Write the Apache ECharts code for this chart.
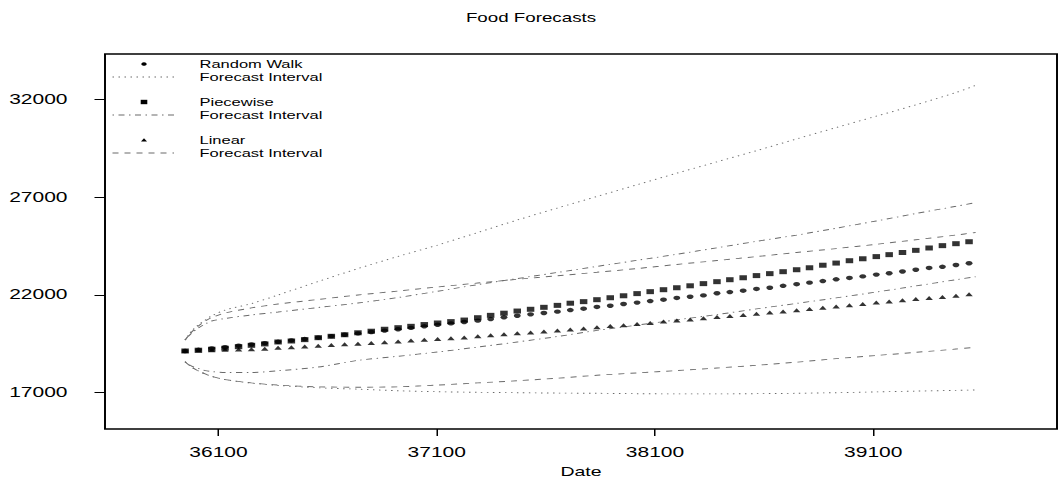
<!DOCTYPE html>
<html>
<head>
<meta charset="utf-8">
<script src="https://cdn.jsdelivr.net/npm/echarts@6/dist/echarts.min.js"></script>
<style>
html,body{margin:0;padding:0;background:#fff;overflow:hidden;}
#wrap{width:1062px;height:487px;overflow:hidden;}
#c{width:708px;height:487px;transform:scaleX(1.5);transform-origin:0 0;}
</style>
</head>
<body>
<div id="wrap"><div id="c"></div></div>
<script>
// ---- data (dates are spreadsheet serial day numbers) ----
const pointDates = [
  35947, 36008, 36069, 36130, 36192, 36251, 36312, 36373, 36434, 36495,
  36557, 36617, 36678, 36739, 36800, 36861, 36923, 36982, 37043, 37104,
  37165, 37226, 37288, 37347, 37408, 37469, 37530, 37591, 37653, 37712,
  37773, 37834, 37895, 37956, 38018, 38078, 38139, 38200, 38261, 38322,
  38384, 38443, 38504, 38565, 38626, 38687, 38749, 38808, 38869, 38930,
  38991, 39052, 39114, 39173, 39234, 39295, 39356, 39417, 39479, 39539
];
const randomWalk = [
  19130, 19190, 19260, 19320, 19400, 19460, 19530, 19600, 19670, 19740,
  19810, 19890, 19960, 20030, 20100, 20170, 20240, 20310, 20390, 20470,
  20540, 20610, 20680, 20760, 20850, 20930, 21000, 21070, 21140, 21220,
  21290, 21380, 21440, 21530, 21600, 21680, 21750, 21840, 21900, 21970,
  22080, 22140, 22210, 22300, 22360, 22460, 22540, 22620, 22700, 22790,
  22860, 22940, 23030, 23100, 23190, 23280, 23370, 23430, 23520, 23610
];
const piecewise = [
  19130, 19170, 19220, 19270, 19350, 19420, 19490, 19590, 19640, 19710,
  19810, 19880, 19960, 20060, 20140, 20240, 20320, 20390, 20480, 20560,
  20630, 20710, 20830, 20950, 21060, 21170, 21260, 21360, 21460, 21570,
  21650, 21750, 21850, 21950, 22060, 22160, 22260, 22360, 22460, 22570,
  22670, 22770, 22870, 22980, 23080, 23180, 23280, 23380, 23510, 23620,
  23740, 23840, 23950, 24050, 24160, 24270, 24390, 24510, 24610, 24710
];
const linear = [
  19130, 19150, 19170, 19190, 19200, 19220, 19250, 19290, 19320, 19360,
  19400, 19430, 19470, 19500, 19540, 19570, 19620, 19660, 19700, 19740,
  19780, 19820, 19880, 19930, 19980, 20030, 20080, 20130, 20180, 20230,
  20280, 20340, 20400, 20450, 20510, 20560, 20630, 20690, 20740, 20800,
  20860, 20920, 20970, 21030, 21090, 21150, 21210, 21280, 21340, 21400,
  21470, 21530, 21600, 21660, 21720, 21780, 21840, 21890, 21950, 22030
];
const intervalDates = [
  35947, 35977, 36008, 36039, 36069, 36130, 36251, 36373, 36557, 36739,
  36923, 37104, 37288, 37469, 37653, 37834, 38018, 38200, 38384, 38565,
  38749, 38930, 39114, 39295, 39479, 39569
];
const rwUpper = [19690, 20150, 20460, 20710, 20920, 21220, 21550, 21990, 22680, 23340, 23960, 24540, 25180, 25820, 26430, 27020, 27620, 28210, 28790, 29360, 29960, 30540, 31120, 31700, 32330, 32690];
const rwLower = [18580, 18310, 18110, 17960, 17830, 17670, 17490, 17370, 17250, 17180, 17100, 17050, 17020, 17000, 16980, 16970, 16950, 16940, 16940, 16950, 16970, 17000, 17040, 17080, 17120, 17140];
const pwUpper = [19690, 20050, 20300, 20510, 20660, 20790, 20970, 21120, 21350, 21580, 21860, 22180, 22520, 22830, 23140, 23450, 23760, 24070, 24400, 24730, 25050, 25400, 25770, 26150, 26520, 26710];
const pwLower = [18580, 18360, 18240, 18130, 18080, 18030, 18030, 18120, 18310, 18650, 18860, 19080, 19330, 19590, 19870, 20180, 20450, 20720, 20990, 21280, 21560, 21840, 22140, 22450, 22770, 22920];
const lnUpper = [19690, 20100, 20410, 20660, 20840, 21070, 21330, 21530, 21760, 21990, 22190, 22400, 22600, 22790, 22970, 23150, 23340, 23550, 23750, 23950, 24160, 24360, 24580, 24810, 25050, 25180];
const lnLower = [18580, 18310, 18110, 17960, 17830, 17670, 17500, 17390, 17300, 17280, 17300, 17390, 17500, 17610, 17740, 17890, 18010, 18130, 18260, 18400, 18560, 18740, 18900, 19060, 19230, 19320];
const xTicks = [36100, 37100, 38100, 39100];
const yTicks = [17000, 22000, 27000, 32000];
const titleText = 'Food Forecasts';
const xName = 'Date';
const legendLabels = ['Random Walk', 'Forecast Interval', 'Piecewise', 'Forecast Interval', 'Linear', 'Forecast Interval'];

// ---- build ----
const FONT = 'Liberation Sans, Arial, Helvetica, sans-serif';
const zip = (xs, ys) => xs.map((x, i) => [x, ys[i]]);
const DOT = [1, 3], DASH = [4, 4], DASHDOT = [1, 3, 4, 3];
const LINE_COLOR = '#6a6a6a';

function markers(name, data, symbol, size) {
  return {
    name, type: 'scatter', data: zip(pointDates, data), symbol, symbolSize: size,
    itemStyle: { color: '#000' }, silent: true, animation: false, z: 5
  };
}
function band(name, data, dash) {
  return {
    name, type: 'line', data: zip(intervalDates, data), showSymbol: false, symbol: 'none',
    smooth: 0.3, lineStyle: { color: LINE_COLOR, width: 0.9, type: dash },
    silent: true, animation: false, z: 3
  };
}

const chart = echarts.init(document.getElementById('c'), null, { renderer: 'svg' });

// legend drawn as graphic elements (R-style legend without box)
const lgX1 = 75, lgX2 = 116, lgSym = 96, lgTx = 133;
const rows = [64, 77, 102, 115, 140, 153];
const txt = (t, y) => ({ type: 'text', x: lgTx, y, style: { text: t, fill: '#000', fontSize: 11, fontFamily: FONT, verticalAlign: 'middle' } });
const ln = (y, dash) => ({ type: 'line', shape: { x1: lgX1, y1: y, x2: lgX2, y2: y }, style: { stroke: LINE_COLOR, lineWidth: 0.9, lineDash: dash } });
const graphics = [
  { type: 'circle', shape: { cx: lgSym, cy: rows[0], r: 1.8 }, style: { fill: '#000' } },
  ln(rows[1], DOT),
  { type: 'rect', shape: { x: lgSym - 2.2, y: rows[2] - 2.2, width: 4.4, height: 4.4 }, style: { fill: '#000' } },
  ln(rows[3], DASHDOT),
  { type: 'polygon', shape: { points: [[lgSym - 2, rows[4] + 1.5], [lgSym + 2, rows[4] + 1.5], [lgSym, rows[4] - 1.8]] }, style: { fill: '#000' } },
  ln(rows[5], DASH)
];
legendLabels.forEach((t, i) => graphics.push(txt(t, rows[i])));

const plain = v => String(v);

chart.setOption({
  animation: false,
  backgroundColor: '#fff',
  title: {
    text: titleText, left: 'center', top: 6,
    textStyle: { fontFamily: FONT, fontSize: 12.5, fontWeight: 'normal', color: '#000' }
  },
  grid: {
    left: 70, right: 3.33, top: 54, bottom: 58, show: true,
    borderColor: '#000', borderWidth: 1.3, backgroundColor: 'transparent'
  },
  xAxis: {
    type: 'value', min: 35580, max: 39942,
    name: xName, nameLocation: 'middle', nameGap: 36,
    nameTextStyle: { fontFamily: FONT, fontSize: 13, color: '#000' },
    axisLine: { show: false },
    axisTick: { show: true, length: 7, customValues: xTicks, lineStyle: { color: '#000', width: 1 } },
    axisLabel: { customValues: xTicks, formatter: plain, margin: 16, fontFamily: FONT, fontSize: 14, color: '#000' },
    splitLine: { show: false }
  },
  yAxis: {
    type: 'value', min: 15146, max: 34297,
    axisLine: { show: false },
    axisTick: { show: true, length: 7, customValues: yTicks, lineStyle: { color: '#000', width: 1 } },
    axisLabel: { customValues: yTicks, formatter: plain, margin: 25, fontFamily: FONT, fontSize: 14, color: '#000' },
    splitLine: { show: false }
  },
  graphic: graphics,
  series: [
    band('Random Walk Upper', rwUpper, DOT),
    band('Random Walk Lower', rwLower, DOT),
    band('Piecewise Upper', pwUpper, DASHDOT),
    band('Piecewise Lower', pwLower, DASHDOT),
    band('Linear Upper', lnUpper, DASH),
    band('Linear Lower', lnLower, DASH),
    markers('Random Walk', randomWalk, 'circle', [4.6, 4.4]),
    markers('Piecewise', piecewise, 'rect', [5, 5]),
    markers('Linear', linear, 'triangle', [5, 4])
  ]
});
</script>
</body>
</html>
